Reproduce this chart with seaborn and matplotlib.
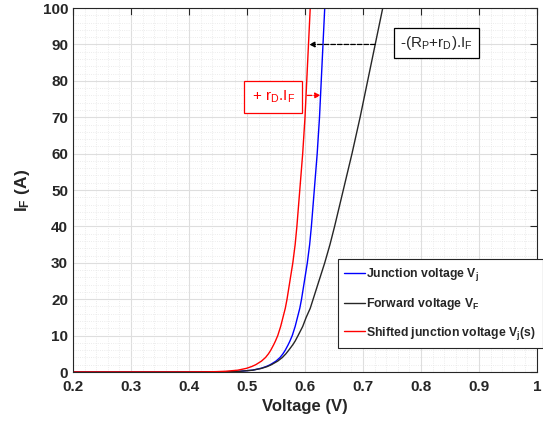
import numpy as np
import pandas as pd
import seaborn as sns
import matplotlib.pyplot as plt
from matplotlib.ticker import MultipleLocator

# Datos ------------------------------------------------------------------------
corriente = [0, 0.01, 0.05, 0.1, 0.2, 0.5, 1, 1.5, 2, 3, 4, 5, 6, 7.5, 8.5,
             10, 12.5, 15, 17.5, 20, 25, 30, 35, 40, 50, 60, 70, 80, 90, 100]

v_union = [0.20, 0.40, 0.455, 0.472, 0.488, 0.509, 0.524, 0.533, 0.540, 0.550,
           0.557, 0.562, 0.566, 0.571, 0.574, 0.578, 0.583, 0.587, 0.591,
           0.594, 0.599, 0.604, 0.608, 0.611, 0.616, 0.621, 0.625, 0.628,
           0.631, 0.634]

v_directa = [0.20, 0.40, 0.455, 0.472, 0.488, 0.510, 0.525, 0.535, 0.542,
             0.553, 0.561, 0.567, 0.572, 0.579, 0.583, 0.588, 0.596, 0.602,
             0.609, 0.614, 0.624, 0.634, 0.643, 0.651, 0.666, 0.681, 0.695,
             0.708, 0.721, 0.734]

v_desplazada = [0.20, 0.38, 0.430, 0.447, 0.463, 0.484, 0.499, 0.508, 0.515,
                0.525, 0.532, 0.537, 0.541, 0.546, 0.549, 0.553, 0.558, 0.562,
                0.566, 0.569, 0.574, 0.579, 0.583, 0.586, 0.591, 0.596, 0.600,
                0.603, 0.606, 0.609]

series = [r"Junction voltage $\mathbf{V_j}$",
          r"Forward voltage $\mathbf{V_F}$",
          r"Shifted junction voltage $\mathbf{V_j}$(s)"]
colores = ["#0000ff", "#262626", "#ff0000"]

x_ticks = [0.2, 0.3, 0.4, 0.5, 0.6, 0.7, 0.8, 0.9, 1.0]
x_tick_labels = ["0.2", "0.3", "0.4", "0.5", "0.6", "0.7", "0.8", "0.9", "1"]
y_ticks = list(range(0, 101, 10))

# Tabla larga ------------------------------------------------------------------
df = pd.concat([
    pd.DataFrame({"V": v, "I": corriente, "Serie": s})
    for v, s in zip([v_union, v_directa, v_desplazada], series)
], ignore_index=True)

# Estilo -----------------------------------------------------------------------
sns.set_style("white")
plt.rcParams["font.family"] = ["Liberation Sans", "DejaVu Sans"]
plt.rcParams["mathtext.fontset"] = "custom"
plt.rcParams["mathtext.rm"] = "Liberation Sans"
plt.rcParams["mathtext.it"] = "Liberation Sans:italic"
plt.rcParams["mathtext.bf"] = "Liberation Sans:bold"

fig = plt.figure(figsize=(5.43, 4.25), dpi=100)
ax = fig.add_axes([0.1344, 0.1247, 0.8546, 0.8563])

sns.lineplot(data=df, x="V", y="I", hue="Serie", hue_order=series,
             palette=colores, estimator=None, sort=False, linewidth=1.0,
             ax=ax, legend=False)

ax.set_xlim(0.2, 1.0)
ax.set_ylim(0, 100)
ax.set_xticks(x_ticks)
ax.set_xticklabels(x_tick_labels)
ax.set_yticks(y_ticks)
ax.xaxis.set_minor_locator(MultipleLocator(0.02))
ax.yaxis.set_minor_locator(MultipleLocator(2))

ax.grid(which="major", color="#dedede", linewidth=0.8)
ax.grid(which="minor", color="#e6e6e6", linewidth=0.6, linestyle=":")
ax.set_axisbelow(True)

ax.tick_params(which="major", direction="in", length=5, top=True, right=True,
               labelsize=11, colors="#262626", width=0.8)
ax.tick_params(axis="x", which="major", pad=6)
ax.tick_params(which="minor", length=0)
for lbl in ax.get_xticklabels() + ax.get_yticklabels():
    lbl.set_fontweight("bold")
for sp in ax.spines.values():
    sp.set_color("#262626")
    sp.set_linewidth(0.8)

ax.set_xlabel("Voltage (V)", fontsize=12, fontweight="bold", color="#262626",
              labelpad=3)
ax.set_ylabel(r"$\mathbf{I_F}$ (A)", fontsize=12.5, fontweight="bold",
              color="#262626", labelpad=8)

# Leyenda ----------------------------------------------------------------------
handles = [plt.Line2D([], [], color=c, linewidth=1.0) for c in colores]
leg = ax.legend(handles, series, loc="lower right",
                bbox_to_anchor=(1.012, 0.065), borderaxespad=0,
                prop={"weight": "bold", "size": 8.8}, fancybox=False,
                framealpha=1, edgecolor="#262626", handlelength=1.7,
                handletextpad=0.1, labelspacing=1.05, borderpad=0.55)
leg.get_frame().set_linewidth(0.8)

# Anotaciones ------------------------------------------------------------------
ax.annotate("", xy=(0.607, 90), xytext=(0.721, 90),
            arrowprops=dict(arrowstyle="-|>", color="black", linestyle="--",
                            linewidth=0.9, mutation_scale=8,
                            shrinkA=0, shrinkB=0))
ax.text(0.826, 90.5, r"-(R$_\mathregular{P}$+r$_\mathregular{D}$).I$_\mathregular{F}$",
        fontsize=11, ha="center", va="center",
        bbox=dict(boxstyle="square,pad=0.4", fc="white", ec="black", lw=0.9))

ax.annotate("", xy=(0.627, 76), xytext=(0.604, 76),
            arrowprops=dict(arrowstyle="-|>", color="red", linestyle="--",
                            linewidth=0.9, mutation_scale=8,
                            shrinkA=0, shrinkB=0))
ax.text(0.545, 75.5, r"+ r$_\mathregular{D}$.I$_\mathregular{F}$",
        fontsize=11, ha="center", va="center", color="red",
        bbox=dict(boxstyle="square,pad=0.5", fc="white", ec="red", lw=0.9))

fig.savefig("out.png", dpi=100)
